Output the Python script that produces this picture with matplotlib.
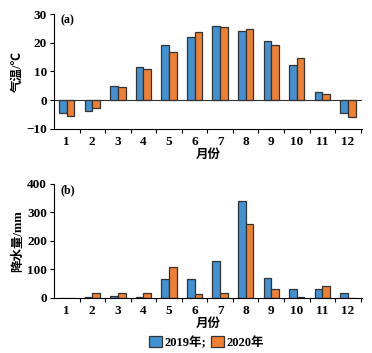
import numpy as np
import matplotlib
matplotlib.use("Agg")
import matplotlib.pyplot as plt
from matplotlib.patches import Patch

months = list(range(1, 13))
month_labels = [str(m) for m in months]

temp_2019 = [-4.4, -3.7, 5.0, 11.4, 19.1, 21.9, 25.9, 24.1, 20.6, 12.3, 2.8, -4.4]
temp_2020 = [-5.6, -2.6, 4.7, 10.8, 16.9, 23.7, 25.6, 24.8, 19.4, 14.8, 2.2, -5.8]

rain_2019 = [1, 3, 8, 2.5, 66, 66, 129, 340, 71, 31, 31, 17]
rain_2020 = [1, 17, 17, 17, 107, 14, 17, 260, 31, 3, 41, 0]

c19 = "#4292d3"
c20 = "#f07f32"
edge = "#333333"
num_font = dict(family="Liberation Serif", weight="bold")
cjk_font = dict(family=["Noto Sans CJK SC", "DejaVu Sans"], weight="bold")

fig = plt.figure(figsize=(3.72, 3.53), dpi=100)
ax1 = fig.add_axes([0.145, 0.635, 0.828, 0.325])
ax2 = fig.add_axes([0.145, 0.156, 0.828, 0.323])

x = np.array(months)
w = 0.3


def style_axis(ax, ylim, yticks, ylabel, tag):
    ax.set_xlim(0.5, 12.55)
    ax.set_ylim(*ylim)
    ax.set_yticks(yticks)
    ax.set_yticklabels([str(t) if t >= 0 else "\u2212" + str(-t) for t in yticks],
                       fontsize=9.5, **num_font)
    ax.set_xticks(x)
    ax.set_xticklabels(month_labels, fontsize=9.5, **num_font)
    ax.set_xticks(np.arange(1.5, 12.6, 1), minor=True)
    ax.tick_params(axis="x", which="major", length=0, pad=5)
    ax.tick_params(axis="x", which="minor", length=3, width=0.8, direction="out")
    ax.tick_params(axis="y", length=3, width=0.8, direction="out", pad=2)
    for s in ["top", "right"]:
        ax.spines[s].set_visible(False)
    for s in ["left", "bottom"]:
        ax.spines[s].set_linewidth(0.8)
    ax.set_ylabel(ylabel, fontsize=9, labelpad=2,
                  family=["Liberation Serif", "Noto Sans CJK SC"], weight="bold")
    ax.set_xlabel("月份", fontsize=9, labelpad=0, **cjk_font)
    ax.text(0.02, 1.0, tag, transform=ax.transAxes, ha="left", va="top",
            fontsize=8.5, **num_font)


ax1.bar(x - w / 2, temp_2019, w, color=c19, edgecolor=edge, linewidth=0.9)
ax1.bar(x + w / 2, temp_2020, w, color=c20, edgecolor=edge, linewidth=0.9)
ax1.axhline(0, color=edge, linewidth=0.8)
style_axis(ax1, (-10, 30), [-10, 0, 10, 20, 30], "气温/℃", "(a)")

ax2.bar(x - w / 2, rain_2019, w, color=c19, edgecolor=edge, linewidth=0.9)
ax2.bar(x + w / 2, rain_2020, w, color=c20, edgecolor=edge, linewidth=0.9)
style_axis(ax2, (0, 400), [0, 100, 200, 300, 400], "降水量/mm", "(b)")

handles = [Patch(facecolor=c19, edgecolor=edge, linewidth=0.9),
           Patch(facecolor=c20, edgecolor=edge, linewidth=0.9)]
fig.legend(handles, ["2019年;", "2020年"], loc="center", bbox_to_anchor=(0.555, 0.03),
           ncol=2, frameon=False, handlelength=1.0, handleheight=1.0,
           handletextpad=0.2, columnspacing=0.4,
           prop=dict(family=["Liberation Serif", "Noto Sans CJK SC"], weight="bold", size=9))

fig.savefig("out.png", dpi=100)
